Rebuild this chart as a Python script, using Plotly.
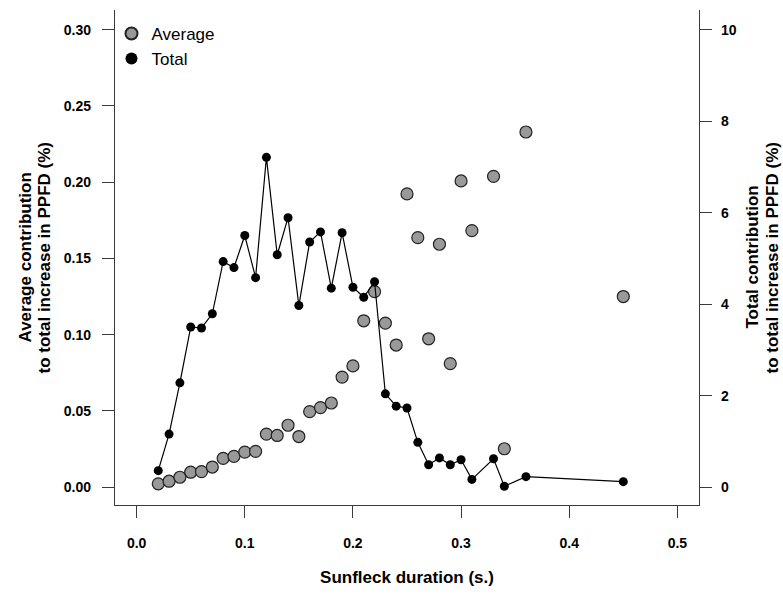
import plotly.graph_objects as go

# Sunfleck duration (s.)
duration = [0.02, 0.03, 0.04, 0.05, 0.06, 0.07, 0.08, 0.09, 0.10, 0.11,
            0.12, 0.13, 0.14, 0.15, 0.16, 0.17, 0.18, 0.19, 0.20, 0.21,
            0.22, 0.23, 0.24, 0.25, 0.26, 0.27, 0.28, 0.29, 0.30, 0.31,
            0.33, 0.34, 0.36, 0.45]

# average contribution (left axis, %)
average = [0.0022, 0.0039, 0.0065, 0.0098, 0.0102, 0.0132, 0.0189, 0.0202, 0.0230, 0.0235,
           0.0348, 0.0339, 0.0406, 0.0332, 0.0495, 0.0522, 0.0552, 0.0722, 0.0795, 0.1091,
           0.1282, 0.1076, 0.0932, 0.1923, 0.1636, 0.0973, 0.1593, 0.0810, 0.2008, 0.1682,
           0.2038, 0.0252, 0.2329, 0.1250]

# total contribution (right axis, %)
total = [0.36, 1.16, 2.28, 3.50, 3.48, 3.79, 4.93, 4.80, 5.50, 4.58,
         7.21, 5.08, 5.89, 3.97, 5.36, 5.58, 4.35, 5.56, 4.37, 4.15,
         4.49, 2.04, 1.77, 1.73, 0.98, 0.49, 0.64, 0.49, 0.60, 0.17,
         0.62, 0.02, 0.23, 0.12]

x_ticks = [0.0, 0.1, 0.2, 0.3, 0.4, 0.5]
x_ticktext = ["0.0", "0.1", "0.2", "0.3", "0.4", "0.5"]
y_ticks = [0.00, 0.05, 0.10, 0.15, 0.20, 0.25, 0.30]
y_ticktext = ["0.00", "0.05", "0.10", "0.15", "0.20", "0.25", "0.30"]
y2_ticks = [0, 2, 4, 6, 8, 10]
y2_ticktext = ["0", "2", "4", "6", "8", "10"]

left_title = ["Average contribution", "to total increase in PPFD (%)"]
right_title = ["Total contribution", "to total increase in PPFD (%)"]

FONT = "Liberation Sans, Arial, sans-serif"
AX = "#3a3a3a"

fig = go.Figure()

# total: line without legend, then markers with legend
fig.add_trace(go.Scatter(
    x=duration, y=total, yaxis="y2", mode="lines",
    line=dict(color="black", width=1.2), showlegend=False, hoverinfo="skip"
))
fig.add_trace(go.Scatter(
    x=duration, y=total, yaxis="y2", mode="markers", name="Total",
    marker=dict(color="black", size=9, line=dict(width=0))
))
fig.add_trace(go.Scatter(
    x=duration, y=average, mode="markers", name="Average",
    marker=dict(color="#999999", size=12, line=dict(color="#222222", width=1.2))
))

axis_common = dict(
    showgrid=False, zeroline=False, showline=True, linecolor=AX, linewidth=1.3,
    ticks="outside", ticklen=12, tickwidth=1.3, tickcolor=AX,
    tickfont=dict(family=FONT, size=14, color="black", weight="bold"),
)


def title_line(text, x):
    # one rotated line of a y-axis title, x in paper units
    return dict(text=text, xref="paper", yref="paper", x=x, y=0.5, textangle=-90,
                xanchor="center", yanchor="middle", showarrow=False,
                font=dict(family=FONT, size=17, weight="bold"))


fig.update_layout(
    width=783, height=594,
    margin=dict(l=115, r=84, t=10, b=86),
    paper_bgcolor="white", plot_bgcolor="white",
    font=dict(family=FONT, color="black"),
    xaxis=dict(
        range=[-0.02, 0.52], tickvals=x_ticks, ticktext=x_ticktext,
        ticklabelstandoff=13,
        title=dict(text="Sunfleck duration (s.)", standoff=21,
                   font=dict(family=FONT, size=17, weight="bold")),
        **axis_common
    ),
    yaxis=dict(
        range=[-0.0117, 0.3129], tickvals=y_ticks, ticktext=y_ticktext,
        ticklabelstandoff=8,
        **axis_common
    ),
    yaxis2=dict(
        range=[-0.39, 10.43], tickvals=y2_ticks, ticktext=y2_ticktext,
        overlaying="y", side="right", ticklabelstandoff=6,
        **axis_common
    ),
    legend=dict(
        x=-0.006, y=0.988, xanchor="left", yanchor="top",
        bgcolor="rgba(0,0,0,0)", font=dict(family=FONT, size=17),
        traceorder="reversed", itemsizing="constant", tracegroupgap=0
    ),
    annotations=[
        title_line(left_title[0], -0.1541),
        title_line(left_title[1], -0.1199),
        title_line(right_title[0], 1.0908),
        title_line(right_title[1], 1.1267),
    ],
)

# drop the default 8px body margin so the figure fills the window
fig.write_html(
    "out.html",
    config={"displayModeBar": False},
    post_script="document.body.style.margin='0';document.body.style.overflow='hidden';",
)
